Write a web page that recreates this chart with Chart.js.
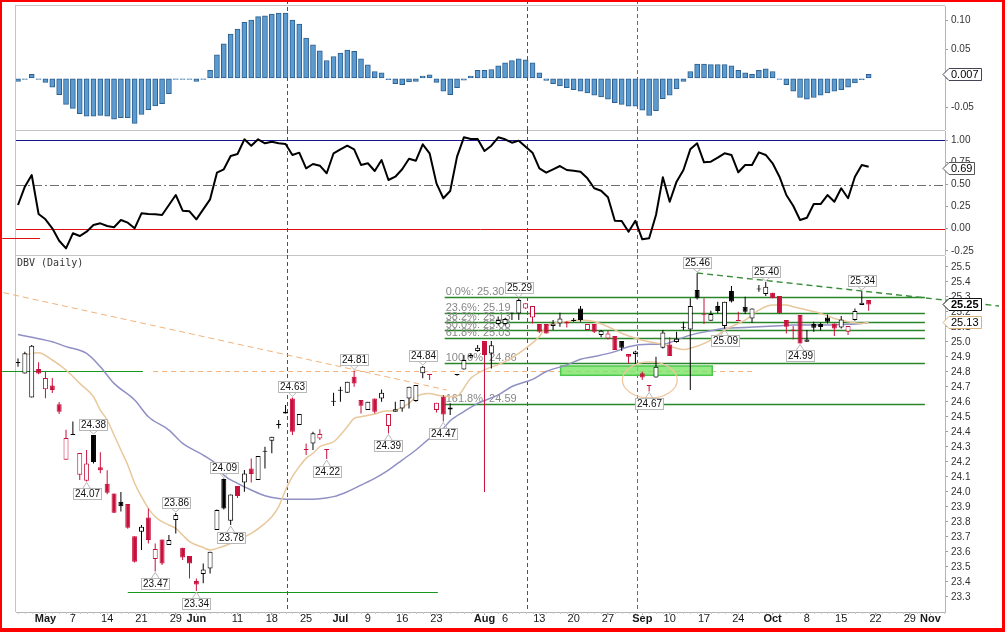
<!DOCTYPE html>
<html>
<head>
<meta charset="utf-8">
<title>DBV (Daily)</title>
<script src="https://cdn.jsdelivr.net/npm/chart.js@4.4.1/dist/chart.umd.min.js"></script>
<style>
  html, body { margin:0; padding:0; background:#fff; }
  #wrap { position:relative; width:1005px; height:632px; overflow:hidden; background:#fff; }
  #wrap canvas { position:absolute; left:0; }
  #frame { position:absolute; left:0; top:0; width:1005px; height:632px; box-sizing:border-box;
           border-style:solid; border-color:#ff0000; border-width:2px 3px 4px 2px; pointer-events:none; }
</style>
</head>
<body>
<div id="wrap">
  <canvas id="macd" width="1005" height="130" style="top:0px"></canvas>
  <canvas id="stoch" width="1005" height="125" style="top:130px"></canvas>
  <canvas id="price" width="1005" height="377" style="top:255px"></canvas>
  <div id="frame"></div>
</div>
<script>
// ---------------- DATA (trading-day index 0 = Apr 25) ----------------
const tickIdx    = [4, 8, 13, 18, 23, 26, 32, 37, 42, 47, 51, 56, 61, 68, 71, 76, 81, 86, 91, 95, 100, 105, 110, 115, 120, 125, 130, 133];
const tickLabels = ['May','7','14','21','29','Jun','11','18','25','Jul','9','16','23','Aug','6','13','20','27','Sep','10','17','24','Oct','8','15','22','29','Nov'];
const monthTicks = ['May','Jun','Jul','Aug','Sep','Oct','Nov'];

const priceTicks = [25.5,25.4,25.3,25.2,25.1,25.0,24.9,24.8,24.7,24.6,24.5,24.4,24.3,24.2,24.1,24.0,23.9,23.8,23.7,23.6,23.5,23.4,23.3];
const stochTicks = [1.00, 0.75, 0.50, 0.25, 0.00, -0.25];
const macdTicks  = [0.10, 0.05, 0.00, -0.05];

const openP = [
24.865,24.79,24.63,24.82,24.685,24.71,24.585,24.215,24.38,24.115,
24.075,24.38,24.165,24.055,23.99,23.935,23.92,23.705,23.735,23.83,
23.553,23.684,23.646,23.813,23.629,23.573,23.406,23.453,23.49,23.746,
24.086,23.808,24.04,24.064,24.157,24.08,24.27,24.342,24.45,24.524,
24.624,24.446,24.285,24.324,24.357,24.285,24.605,24.675,24.662,24.769,
24.613,24.546,24.624,24.624,24.44,24.535,24.557,24.624,24.606,24.791,
24.786,24.546,24.635,24.55,24.785,24.817,24.897,24.94,25.006,24.924,
25.12,25.12,25.195,25.19,25.224,25.164,25.12,25.12,25.106,25.124,
25.135,25.148,25.224,25.08,25.12,25.046,25.024,25.04,25.006,24.92,
24.92,24.791,24.71,24.764,24.962,24.984,25.0,25.097,25.084,25.346,
25.18,25.142,25.24,25.106,25.34,25.142,25.235,25.157,25.35,25.32,
25.329,25.306,25.146,25.084,25.18,25.002,25.12,25.12,25.164,25.124,
25.097,25.068,25.146,25.246,25.28];
const highP = [
24.89,24.935,24.98,24.865,24.80,24.76,24.60,24.415,24.47,24.26,
24.28,24.38,24.265,24.145,23.99,24.0,23.92,23.705,23.78,23.89,
23.657,23.684,23.713,23.86,23.629,23.573,23.424,23.524,23.602,23.884,
24.09,23.984,24.04,24.146,24.224,24.24,24.302,24.369,24.48,24.58,
24.63,24.52,24.324,24.402,24.418,24.285,24.662,24.702,24.735,24.81,
24.613,24.602,24.624,24.684,24.52,24.602,24.613,24.702,24.713,24.84,
24.786,24.595,24.646,24.591,24.785,24.913,24.924,24.98,25.006,25.006,
25.17,25.16,25.195,25.29,25.258,25.24,25.12,25.12,25.146,25.195,
25.14,25.16,25.24,25.12,25.12,25.08,25.075,25.04,25.006,24.92,
24.942,24.802,24.71,24.902,25.08,25.031,25.068,25.135,25.291,25.46,
25.291,25.209,25.269,25.269,25.373,25.202,25.302,25.224,25.38,25.40,
25.329,25.306,25.146,25.106,25.18,25.08,25.135,25.13,25.184,25.124,
25.173,25.106,25.224,25.34,25.28];
const lowP = [
24.835,24.79,24.63,24.785,24.625,24.66,24.52,24.215,24.38,24.08,
24.07,24.19,24.125,23.985,23.86,23.87,23.755,23.53,23.613,23.657,
23.47,23.513,23.646,23.724,23.546,23.424,23.34,23.391,23.457,23.746,
23.884,23.78,23.96,24.002,24.064,24.08,24.157,24.258,24.424,24.524,
24.38,24.446,24.246,24.28,24.346,24.22,24.573,24.602,24.662,24.702,
24.524,24.546,24.524,24.602,24.39,24.535,24.535,24.557,24.602,24.758,
24.746,24.53,24.47,24.513,24.775,24.817,24.891,24.935,24.0,24.824,
25.11,25.11,25.146,25.146,25.22,25.124,25.06,25.057,25.08,25.102,
25.097,25.135,25.135,25.08,25.06,25.031,25.017,24.946,24.94,24.857,
24.853,24.746,24.67,24.764,24.957,24.906,24.995,25.08,24.68,25.284,
25.12,25.142,25.191,25.09,25.264,25.14,25.186,25.129,25.335,25.306,
25.291,25.186,25.057,25.017,24.99,25.002,25.068,25.077,25.124,25.04,
25.09,25.046,25.142,25.246,25.208];
const closeP = [
24.86,24.925,24.975,24.79,24.76,24.68,24.535,24.36,24.38,24.26,
24.19,24.2,24.145,23.995,23.862,23.905,23.762,23.535,23.768,23.68,
23.62,23.524,23.68,23.846,23.564,23.524,23.384,23.484,23.602,23.88,
23.89,23.984,23.973,24.124,24.12,24.24,24.268,24.369,24.447,24.535,
24.402,24.52,24.28,24.391,24.386,24.28,24.602,24.68,24.735,24.724,
24.575,24.602,24.535,24.662,24.52,24.551,24.613,24.702,24.713,24.835,
24.78,24.595,24.517,24.564,24.78,24.88,24.913,24.962,24.913,24.978,
25.146,25.153,25.19,25.28,25.258,25.24,25.068,25.057,25.124,25.157,
25.124,25.14,25.146,25.12,25.068,25.075,25.057,24.946,24.962,24.902,
24.937,24.764,24.706,24.835,25.064,24.906,25.022,25.095,25.24,25.291,
25.178,25.186,25.206,25.269,25.27,25.14,25.202,25.224,25.355,25.369,
25.291,25.191,25.102,25.073,24.99,25.017,25.095,25.1,25.135,25.09,
25.15,25.106,25.206,25.262,25.25];

const macdHist = [
-0.005,-0.001,0.007,-0.001,-0.007,-0.015,-0.028,-0.045,-0.052,-0.061,
-0.0655,-0.0655,-0.064,-0.0655,-0.0707,-0.068,-0.068,-0.078,-0.0626,-0.054,
-0.0477,-0.0437,-0.0264,-0.001,-0.001,-0.001,-0.005,-0.001,0.0138,0.041,
0.0598,0.077,0.0856,0.097,0.101,0.107,0.1086,0.1115,0.1132,0.1132,
0.101,0.094,0.070,0.058,0.048,0.031,0.038,0.044,0.049,0.047,
0.034,0.0236,0.012,0.0098,-0.002,-0.009,-0.011,-0.006,-0.005,0.004,
0.006,-0.007,-0.022,-0.028,-0.016,-0.003,0.004,0.0138,0.0138,0.0155,
0.022,0.027,0.031,0.034,0.032,0.027,0.0098,-0.0035,-0.009,-0.013,
-0.016,-0.0195,-0.022,-0.025,-0.029,-0.032,-0.036,-0.042,-0.045,-0.048,
-0.048,-0.055,-0.064,-0.056,-0.035,-0.029,-0.018,-0.005,0.012,0.025,
0.025,0.024,0.024,0.024,0.022,0.0138,0.0098,0.007,0.0138,0.0167,
0.012,-0.001,-0.011,-0.022,-0.033,-0.036,-0.033,-0.029,-0.025,-0.022,
-0.0195,-0.015,-0.008,-0.002,0.007];

const stochK = [
0.268,0.475,0.607,0.166,0.106,0.004,-0.136,-0.222,-0.052,-0.083,
-0.034,0.042,0.061,0.031,0.016,0.098,0.068,0.004,0.174,0.166,
0.163,0.155,0.268,0.381,0.204,0.197,0.106,0.219,0.332,0.634,
0.672,0.822,0.845,1.011,0.939,1.011,0.966,0.984,0.966,0.958,
0.834,0.860,0.683,0.732,0.713,0.627,0.853,0.898,0.939,0.898,
0.721,0.740,0.653,0.777,0.551,0.588,0.672,0.792,0.769,0.955,
0.853,0.513,0.344,0.426,0.815,1.034,1.015,1.015,0.879,0.939,
1.034,1.011,0.973,0.996,0.928,0.860,0.683,0.634,0.672,0.709,
0.664,0.656,0.645,0.570,0.457,0.430,0.355,0.090,0.087,-0.034,
0.090,-0.120,-0.109,0.155,0.581,0.305,0.532,0.664,0.898,0.966,
0.751,0.758,0.803,0.853,0.834,0.638,0.721,0.721,0.864,0.834,
0.740,0.588,0.381,0.260,0.098,0.124,0.279,0.279,0.381,0.305,
0.457,0.344,0.588,0.721,0.701];

// moving averages (day index -> value)
const maFastIdx = [1,3,5,7,9,11,12,13,14,15,16,17,18,19,20,21,22,23,24,25,27,28,29,31,32,34,36,37,38,39,40,41,42,43,44,46,47,48,49,50,52,53,55,57,58,60,61,63,64,66,68,71,74,76,77,80,82,84,86,88,90,92,94,97,98,101,103,106,108,110,112,113,115,117,119,121,123,124];
const maFastVal = [24.913,24.929,24.88,24.813,24.724,24.635,24.546,24.48,24.38,24.28,24.18,24.058,23.969,23.891,23.835,23.802,23.78,23.757,23.713,23.669,23.63,23.613,23.624,23.657,23.68,23.724,23.791,23.835,23.902,24.013,24.102,24.169,24.224,24.258,24.302,24.335,24.38,24.435,24.491,24.502,24.52,24.535,24.546,24.591,24.635,24.657,24.646,24.635,24.64,24.758,24.814,24.869,24.958,25.036,25.102,25.136,25.147,25.136,25.102,25.058,25.025,25.002,24.985,24.95,24.958,25.013,25.08,25.146,25.213,25.246,25.246,25.235,25.213,25.191,25.157,25.135,25.124,25.13];
const maSlowIdx = [0,2,5,7,10,12,14,17,19,22,24,27,29,30,32,34,36,38,40,42,44,46,48,50,52,54,56,58,60,62,63,65,67,70,72,75,77,80,82,84,87,89,92,94,96,98,101,103,106,108,111,113,118,120,123,124];
const maSlowVal = [25.05,25.031,25.002,24.969,24.924,24.835,24.724,24.613,24.502,24.413,24.324,24.246,24.18,24.113,24.058,24.013,23.975,23.957,23.951,23.951,23.955,23.969,24.002,24.046,24.091,24.146,24.213,24.28,24.358,24.424,24.475,24.536,24.591,24.647,24.703,24.751,24.803,24.847,24.885,24.903,24.936,24.969,24.985,24.985,25.013,25.046,25.075,25.091,25.097,25.102,25.109,25.113,25.113,25.117,25.124,25.131];

// annotations
const highTags = [[11,24.38],[23,23.86],[30,24.09],[40,24.63],[49,24.81],[59,24.84],[73,25.29],[99,25.46],[109,25.40],[123,25.34]];
const lowTags  = [[10,24.07],[20,23.47],[26,23.34],[31,23.78],[45,24.22],[54,24.39],[62,24.47],[92,24.67],[103,25.09],[114,24.99]];
const eventIdx  = [39.15, 74.15, 90.2];
const eventKind = ['red', 'red', 'green'];
const fibPct  = ['0.0%','23.6%','38.2%','50.0%','61.8%','100.0%','161.8%'];
const fibVal  = [25.30, 25.196, 25.132, 25.08, 25.028, 24.86, 24.588];
const fibText = ['25.30','25.19','25.13','25.08','25.03','24.86','24.59'];
const fibRange = [62.2, 132.2];
const supportLine = {from:16, to:61.2, value:23.331};
const levelLine = {value:24.805, solidFrom:-2.3, solidTo:18.2, dashFrom:19.7, dashTo:107};
const diagLine = {x1:-2.14, y1:25.329, x2:62.5, y2:24.68};
const downTrend = {x1:99, y1:25.46, x2:143, y2:25.24};
const zone = {x1:79.1, x2:101.2, y1:24.84, y2:24.778};
const ring = {cx:92.1, cy:24.747, rx:4.0, ry:0.12};
const strayStoch = {from:-2.3, to:3.2, value:-0.108};
const lastMacd = 0.007, lastStoch = 0.69, lastClose = 25.25, lastMA = 25.13;

// ---------------- RENDERING ----------------
const FONT = '"Liberation Sans", Arial, Helvetica, sans-serif';
Chart.defaults.font.family = FONT;
const N = closeP.length;
const days = Array.from({length:N}, (_, i) => i);
const RED = '#c8103c', BLK = '#000000';
const EVENT_RED = '#e01414', EVENT_GREEN = '#18a018', LEVEL_GREEN = '#16961a';
const candleColor = closeP.map((c, i) => (i > 0 && c < closeP[i-1]) ? RED : BLK);
const candleFill  = closeP.map((c, i) => c < openP[i] ? candleColor[i] : '#ffffff');
const X_MIN = -0.2915, X_MAX = 135.13;

function hiddenX() {
  return {type:'linear', min:X_MIN, max:X_MAX, offset:false, bounds:'data', display:false, grid:{display:false, offset:false}};
}
function yAxis(min, max, ticks, digits) {
  return {
    type:'linear', position:'right', min, max, bounds:'data', beginAtZero:false,
    afterBuildTicks: s => { s.ticks = ticks.map(v => ({value:v})); },
    afterFit: s => { s.width = 60; s.paddingTop = 0; s.paddingBottom = 0; },
    grid:{display:true, drawOnChartArea:false, drawTicks:true, tickLength:3, color:'#9a9a9a'},
    border:{display:true, color:'#b4b4b4'},
    ticks:{autoSkip:false, padding:3, color:'#333', font:{family:FONT, size:10},
           callback: v => Number(v).toFixed(digits)}
  };
}
function hLine(ctx, x1, x2, y, color, width, dash) {
  ctx.save(); ctx.beginPath(); ctx.strokeStyle = color; ctx.lineWidth = width || 1; ctx.setLineDash(dash || []);
  const yy = Math.round(y) + 0.5; ctx.moveTo(x1, yy); ctx.lineTo(x2, yy); ctx.stroke(); ctx.restore();
}
function panelFrame(chart) {
  const {ctx, chartArea:a} = chart;
  ctx.save(); ctx.strokeStyle = '#c4c4c4'; ctx.lineWidth = 1; ctx.beginPath();
  ctx.moveTo(a.left - 0.5, a.top); ctx.lineTo(a.left - 0.5, a.bottom);
  ctx.moveTo(a.left - 1, a.top - 0.5); ctx.lineTo(a.right, a.top - 0.5);
  ctx.stroke(); ctx.restore();
}
function eventLines(chart) {
  const {ctx, chartArea:a, scales:{x}} = chart;
  eventIdx.forEach((v, k) => {
    const px = Math.round(x.getPixelForValue(v)) + 0.5;
    ctx.save();
    ctx.lineWidth = 1; ctx.setLineDash([4, 3]);
    ctx.strokeStyle = eventKind[k] === 'green' ? EVENT_GREEN : EVENT_RED;
    ctx.beginPath(); ctx.moveTo(px, 0); ctx.lineTo(px, a.bottom); ctx.stroke();
    ctx.restore();
  });
}
function valueBox(ctx, x0, y, text, border, bold) {
  ctx.save();
  ctx.font = (bold ? 'bold ' : '') + '11px ' + FONT;
  const tw = ctx.measureText(text).width;
  const yy = Math.round(y) + 0.5, xl = x0 - 2, xs = x0 + 4, xr = Math.round(x0 + 6 + tw + 2) + 0.5;
  ctx.beginPath();
  ctx.moveTo(xl, yy); ctx.lineTo(xs, yy - 6); ctx.lineTo(xr, yy - 6); ctx.lineTo(xr, yy + 6); ctx.lineTo(xs, yy + 6); ctx.closePath();
  ctx.fillStyle = '#fff'; ctx.fill(); ctx.strokeStyle = border; ctx.lineWidth = 1; ctx.stroke();
  ctx.fillStyle = '#000'; ctx.textAlign = 'left'; ctx.textBaseline = 'middle';
  ctx.fillText(text, x0 + 6, yy + 0.5);
  ctx.restore();
}
function priceTag(ctx, px, py, text, above) {
  ctx.save();
  ctx.font = '10px ' + FONT;
  const tw = ctx.measureText(text).width;
  const w = Math.round(tw + 3), h = 11;
  const bx = Math.round(px - w / 2) + 0.5;
  const by = above ? Math.round(py - 5 - h) + 0.5 : Math.round(py + 7) + 0.5;
  ctx.strokeStyle = '#b8b8b8'; ctx.lineWidth = 1; ctx.fillStyle = '#fff';
  ctx.beginPath();
  if (above) { ctx.moveTo(px - 4, by + h); ctx.lineTo(px, py - 1); ctx.lineTo(px + 4, by + h); }
  else { ctx.moveTo(px - 4, by); ctx.lineTo(px, py + 1); ctx.lineTo(px + 4, by); }
  ctx.stroke();
  ctx.fillRect(bx, by, w, h); ctx.strokeRect(bx, by, w, h);
  ctx.fillStyle = '#111'; ctx.textAlign = 'center'; ctx.textBaseline = 'middle';
  ctx.fillText(text, bx + w / 2, by + h / 2 + 0.5);
  ctx.restore();
}
const common = {
  responsive:false, animation:false, events:[],
  plugins:{legend:{display:false}, tooltip:{enabled:false}}
};

// ---- MACD histogram panel
new Chart(document.getElementById('macd'), {
  type:'bar',
  data:{datasets:[{
    data: days.map(i => ({x:i, y:macdHist[i]})),
    backgroundColor:'#5b9bd0', borderColor:'#2d5f8f', borderWidth:1, borderSkipped:false,
    barThickness:5, minBarLength:1, grouped:false
  }]},
  options:Object.assign({}, common, {
    layout:{padding:{left:16, right:0, top:6, bottom:0}},
    scales:{x:hiddenX(), y:yAxis(-0.0894, 0.1255, macdTicks, 2)}
  }),
  plugins:[{
    id:'macdDeco',
    beforeDatasetsDraw(chart){ panelFrame(chart); eventLines(chart); },
    afterDraw(chart){ valueBox(chart.ctx, chart.chartArea.right, chart.scales.y.getPixelForValue(lastMacd), lastMacd.toFixed(3), '#445', false); }
  }]
});

// ---- oscillator panel
new Chart(document.getElementById('stoch'), {
  type:'line',
  data:{datasets:[{
    data: days.map(i => ({x:i, y:stochK[i]})),
    borderColor:'#000', borderWidth:2, pointRadius:0, tension:0, fill:false, borderJoinStyle:'round'
  }]},
  options:Object.assign({}, common, {
    layout:{padding:{left:16, right:0, top:1, bottom:0}},
    scales:{x:hiddenX(), y:yAxis(-0.2975, 1.1052, stochTicks, 2)}
  }),
  plugins:[{
    id:'stochDeco',
    beforeDatasetsDraw(chart){
      const {ctx, chartArea:a, scales:{x, y}} = chart;
      panelFrame(chart); eventLines(chart);
      hLine(ctx, a.left, a.right, y.getPixelForValue(1), '#14148c', 1);
      hLine(ctx, a.left, a.right, y.getPixelForValue(0), '#e01010', 1);
      hLine(ctx, a.left, a.right, y.getPixelForValue(0.5), '#707070', 1, [9,3,2,3]);
      hLine(ctx, x.getPixelForValue(strayStoch.from), x.getPixelForValue(strayStoch.to), y.getPixelForValue(strayStoch.value), '#e01010', 1);
    },
    afterDraw(chart){ valueBox(chart.ctx, chart.chartArea.right, chart.scales.y.getPixelForValue(lastStoch), lastStoch.toFixed(2), '#555', false); }
  }]
});

// ---- price panel
const priceDeco = {
  id:'priceDeco',
  beforeDatasetsDraw(chart){
    const {ctx, chartArea:a, scales:{x, y}} = chart;
    panelFrame(chart); eventLines(chart);
    // fibonacci levels
    fibVal.forEach((v, k) => {
      hLine(ctx, x.getPixelForValue(fibRange[0]), x.getPixelForValue(fibRange[1]), y.getPixelForValue(v), '#2a862a', 1.3);
    });
    ctx.save();
    ctx.font = '11px ' + FONT; ctx.fillStyle = '#888'; ctx.textAlign = 'left'; ctx.textBaseline = 'alphabetic';
    fibVal.forEach((v, k) => {
      ctx.fillText(fibPct[k] + ': ' + fibText[k], x.getPixelForValue(fibRange[0]) + 1, Math.round(y.getPixelForValue(v)) - 2);
    });
    ctx.restore();
    // support line
    hLine(ctx, x.getPixelForValue(supportLine.from), x.getPixelForValue(supportLine.to), y.getPixelForValue(supportLine.value), LEVEL_GREEN, 1.2);
    // horizontal level
    const ly = y.getPixelForValue(levelLine.value);
    hLine(ctx, x.getPixelForValue(levelLine.solidFrom), x.getPixelForValue(levelLine.solidTo), ly, LEVEL_GREEN, 1.2);
    hLine(ctx, x.getPixelForValue(levelLine.dashFrom), x.getPixelForValue(levelLine.dashTo), ly, '#f2b27c', 1, [5,4]);
    // diagonal resistance
    ctx.save(); ctx.strokeStyle = '#f2b27c'; ctx.lineWidth = 1; ctx.setLineDash([6,4]);
    ctx.beginPath(); ctx.moveTo(x.getPixelForValue(diagLine.x1), y.getPixelForValue(diagLine.y1));
    ctx.lineTo(x.getPixelForValue(diagLine.x2), y.getPixelForValue(diagLine.y2)); ctx.stroke(); ctx.restore();
    // green zone
    ctx.save();
    const zx1 = x.getPixelForValue(zone.x1), zx2 = x.getPixelForValue(zone.x2);
    const zy1 = y.getPixelForValue(zone.y1), zy2 = y.getPixelForValue(zone.y2);
    ctx.fillStyle = 'rgba(120,228,100,0.78)'; ctx.fillRect(zx1, zy1, zx2 - zx1, zy2 - zy1);
    ctx.strokeStyle = '#4cc84c'; ctx.lineWidth = 1.5; ctx.strokeRect(zx1, zy1, zx2 - zx1, zy2 - zy1);
    ctx.restore();
    // ellipse
    ctx.save(); ctx.strokeStyle = '#efc49a'; ctx.lineWidth = 1.2; ctx.beginPath();
    const ecx = x.getPixelForValue(ring.cx), ecy = y.getPixelForValue(ring.cy);
    const erx = x.getPixelForValue(ring.cx + ring.rx) - ecx, ery = y.getPixelForValue(ring.cy - ring.ry) - ecy;
    ctx.ellipse(ecx, ecy, Math.abs(erx), Math.abs(ery), 0, 0, Math.PI * 2); ctx.stroke(); ctx.restore();
  },
  afterDatasetsDraw(chart){
    const {ctx, chartArea:a, scales:{x, y}} = chart;
    // downtrend line
    ctx.save(); ctx.strokeStyle = '#3a8c3a'; ctx.lineWidth = 1.4; ctx.setLineDash([6,4]);
    ctx.beginPath(); ctx.moveTo(x.getPixelForValue(downTrend.x1), y.getPixelForValue(downTrend.y1));
    ctx.lineTo(x.getPixelForValue(downTrend.x2), y.getPixelForValue(downTrend.y2)); ctx.stroke(); ctx.restore();
    // tags
    highTags.forEach(([i, v]) => priceTag(ctx, x.getPixelForValue(i), y.getPixelForValue(v), v.toFixed(2), true));
    lowTags.forEach(([i, v]) => priceTag(ctx, x.getPixelForValue(i), y.getPixelForValue(v), v.toFixed(2), false));
    // title
    ctx.save(); ctx.font = '10px "DejaVu Sans Mono", "Liberation Mono", monospace'; ctx.fillStyle = '#333';
    ctx.textAlign = 'left'; ctx.textBaseline = 'middle'; ctx.fillText('DBV (Daily)', a.left + 1, a.top + 7); ctx.restore();
  },
  afterDraw(chart){
    const {ctx, chartArea:a, scales:{x, y}} = chart;
    // minor day ticks
    ctx.save(); ctx.strokeStyle = '#c8c8c8'; ctx.lineWidth = 1; ctx.beginPath();
    for (let i = 0; i <= Math.floor(X_MAX); i++) {
      const px = Math.round(x.getPixelForValue(i)) + 0.5;
      ctx.moveTo(px, a.bottom); ctx.lineTo(px, a.bottom + 2);
    }
    ctx.stroke(); ctx.restore();
    valueBox(ctx, a.right, y.getPixelForValue(lastMA), lastMA.toFixed(2), '#d8b27a', false);
    valueBox(ctx, a.right, y.getPixelForValue(lastClose), lastClose.toFixed(2), '#111', true);
  }
};

new Chart(document.getElementById('price'), {
  type:'bar',
  data:{datasets:[
    { label:'body', order:1, data: days.map(i => ({x:i, y:[openP[i], closeP[i]]})),
      backgroundColor:candleFill, borderColor:candleColor, borderWidth:1, borderSkipped:false,
      barThickness:5, minBarLength:1, grouped:false, inflateAmount:0 },
    { label:'wick', order:2, data: days.map(i => ({x:i, y:[lowP[i], highP[i]]})),
      backgroundColor:candleColor, borderWidth:0, barThickness:1, grouped:false, inflateAmount:0 },
    { label:'ma fast', type:'line', order:3, data: maFastIdx.map((d, k) => ({x:d, y:maFastVal[k]})),
      borderColor:'#e8c89c', borderWidth:1.5, pointRadius:0, cubicInterpolationMode:'monotone', fill:false },
    { label:'ma slow', type:'line', order:4, data: maSlowIdx.map((d, k) => ({x:d, y:maSlowVal[k]})),
      borderColor:'#9090c4', borderWidth:1.5, pointRadius:0, cubicInterpolationMode:'monotone', fill:false }
  ]},
  options:Object.assign({}, common, {
    layout:{padding:{left:16, right:0, top:1, bottom:0}},
    scales:{
      x:{
        type:'linear', min:X_MIN, max:X_MAX, offset:false, bounds:'data', position:'bottom',
        afterBuildTicks: s => { s.ticks = tickIdx.map(v => ({value:v})); },
        afterFit: s => { s.height = 20; s.paddingLeft = 0; s.paddingRight = 0; },
        grid:{display:true, drawOnChartArea:false, drawTicks:true, tickLength:3, color:'#a8a8a8', offset:false},
        border:{display:true, color:'#b4b4b4'},
        ticks:{autoSkip:false, maxRotation:0, minRotation:0, padding:-3, color:'#1a1a1a',
          font: c => ({family:FONT, size:11, weight: monthTicks.includes(tickLabels[c.index]) ? 'bold' : 'normal'}),
          callback: (v, i) => tickLabels[i] ?? ''}
      },
      y: yAxis(23.2, 25.5733, priceTicks, 1)
    }
  }),
  plugins:[priceDeco]
});
</script>
</body>
</html>
